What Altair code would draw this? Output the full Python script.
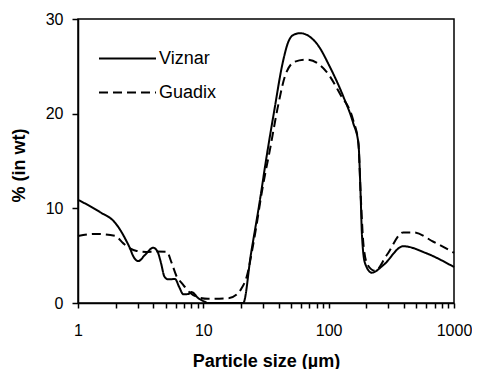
import altair as alt
import pandas as pd

viz_x = [1, 1.5, 1.97, 2.2, 2.4, 2.6, 2.77, 3.03, 3.42, 3.99, 4.32, 4.6, 4.89, 5.25, 5.95, 6.4, 6.93,
         7.6, 8.08, 9.13, 10, 11, 20.8, 24, 28, 32, 37, 42.7, 47.7, 52, 59.1, 80.4, 102.6, 131,
         157, 172.6, 180.4, 184, 195, 221, 273, 394, 603, 1000]
viz_y = [10.9, 9.6, 8.5, 7.6, 6.7, 5.77, 4.9, 4.43, 5.07, 5.84, 5.4, 4.2, 2.8, 2.5, 2.53, 1.72, 0.92,
         0.95, 1.15, 0.5, 0.2, 0.0, 0.0, 5.2, 10.5, 15.5, 20.5, 25.2, 27.6, 28.3, 28.5, 27.4, 24.9, 21.8,
         19.0, 16.9, 10.9, 7.4, 4.2, 3.2, 4.0, 6.0, 5.25, 3.8]

gua_x = [1, 1.37, 1.97, 2.3, 2.6, 2.94, 3.5, 4.2, 5.1, 5.6, 6.13, 6.73, 7.83, 9.13, 10.9, 15.8,
         18.5, 20.2, 22.2, 25.1, 30, 34, 39.7, 44.9, 53.9, 66.9, 96.6, 123, 157, 172.6, 180, 190,
         205, 234, 291, 394, 475, 685, 1000]
gua_y = [7.07, 7.3, 7.1, 6.3, 5.77, 5.5, 5.4, 5.45, 5.42, 4.2, 2.8, 2.1, 1.09, 0.6, 0.45, 0.5,
         0.9, 1.55, 2.8, 6.3, 12.5, 16.2, 21.0, 24.0, 25.5, 25.7, 24.4, 22.1, 19.3, 16.9, 11.5, 6.0,
         4.0, 3.4, 5.07, 7.46, 7.46, 6.47, 5.3]

series = ["Viznar", "Guadix"]
x_ticks = [m * 10 ** e for e in range(3) for m in range(1, 10)] + [1000]

df = pd.concat([
    pd.DataFrame({"size": viz_x, "pct": viz_y, "sample": series[0]}),
    pd.DataFrame({"size": gua_x, "pct": gua_y, "sample": series[1]}),
])

FONT = "Liberation Sans"

chart = alt.Chart(df).mark_line(interpolate="monotone", strokeWidth=2, color="black").encode(
    x=alt.X("size:Q",
            scale=alt.Scale(type="log", domain=[1, 1000], nice=False),
            axis=alt.Axis(values=x_ticks,
                          labelExpr="indexof(['1','10','100','1000'], format(datum.value, 'd')) >= 0 ? format(datum.value, 'd') : ''",
                          title="Particle size (µm)", tickSize=5, labelPadding=14,
                          titleY=58, titleBaseline="middle", grid=False)),
    y=alt.Y("pct:Q", scale=alt.Scale(domain=[0, 30], nice=False),
            axis=alt.Axis(values=[0, 10, 20, 30], title="% (in wt)", tickSize=6, labelPadding=9,
                          titleX=-59, titleY=146, titleAngle=-90, titleAlign="center",
                          titleBaseline="middle", grid=False)),
    strokeDash=alt.StrokeDash("sample:N",
                              scale=alt.Scale(domain=series, range=[[1, 0], [9, 5]]),
                              legend=alt.Legend(title=None, orient="none", legendX=34, legendY=24,
                                                symbolType="M-2,0H2", symbolSize=812,
                                                symbolStrokeWidth=2, symbolStrokeColor="black",
                                                labelFontSize=18, labelFont=FONT, labelColor="black",
                                                labelOffset=16, rowPadding=9)),
).properties(
    width=376, height=284,
    autosize=alt.AutoSizeParams(type="none"),
    padding={"left": 70, "top": 11, "right": 18, "bottom": 66},
).configure_view(
    stroke="black", strokeWidth=1.5
).configure_axis(
    labelFont=FONT, titleFont=FONT, labelFontSize=16, titleFontSize=18,
    labelColor="black", titleColor="black", domainColor="black", tickColor="black",
    domainWidth=1.5, tickWidth=1.5, titleFontWeight="bold", labelFlush=False,
    labelOverlap=False
)

chart.save("out.html", embed_options={"renderer": "svg", "actions": False})
